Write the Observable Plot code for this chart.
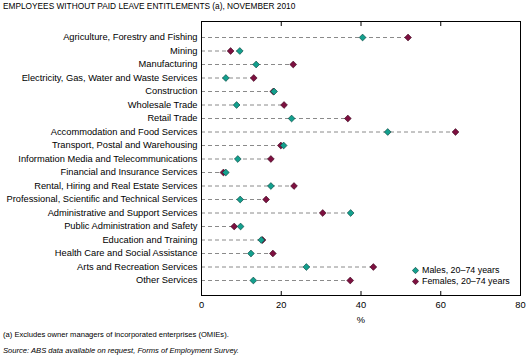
<!DOCTYPE html>
<html>
<head>
<meta charset="utf-8">
<script src="https://cdn.jsdelivr.net/npm/d3@7"></script>
<script src="https://cdn.jsdelivr.net/npm/@observablehq/plot@0.6"></script>
<style>
  html, body { margin: 0; padding: 0; background: #fff; }
  #wrap { position: relative; width: 529px; height: 363px; font-family: "Liberation Sans", Arial, sans-serif; color: #000; }
  #title { position: absolute; left: 3px; top: 1px; font-size: 8.3px; white-space: nowrap; }
  #chart { position: absolute; left: 0; top: 0; }
  .note { position: absolute; left: 3px; font-size: 7.6px; white-space: nowrap; }
  #legend { position: absolute; left: 412px; top: 265px; font-size: 8.9px; }
  #legend div { display: flex; align-items: center; height: 10.8px; }
  #legend svg { margin-right: 3px; }
</style>
</head>
<body>
<div id="wrap">
  <div id="chart"></div>
  <div id="title">EMPLOYEES WITHOUT PAID LEAVE ENTITLEMENTS (a), NOVEMBER 2010</div>
  <div id="legend"></div>
  <div class="note" style="top:330px">(a) Excludes owner managers of incorporated enterprises (OMIEs).</div>
  <div class="note" style="top:346px;font-style:italic">Source: ABS data available on request, <i>Forms of Employment Survey</i>.</div>
</div>
<script>
const categories = [
  "Agriculture, Forestry and Fishing",
  "Mining",
  "Manufacturing",
  "Electricity, Gas, Water and Waste Services",
  "Construction",
  "Wholesale Trade",
  "Retail Trade",
  "Accommodation and Food Services",
  "Transport, Postal and Warehousing",
  "Information Media and Telecommunications",
  "Financial and Insurance Services",
  "Rental, Hiring and Real Estate Services",
  "Professional, Scientific and Technical Services",
  "Administrative and Support Services",
  "Public Administration and Safety",
  "Education and Training",
  "Health Care and Social Assistance",
  "Arts and Recreation Services",
  "Other Services"
];
const males   = [40.4, 9.6, 13.7, 6.1, 18.2, 8.8, 22.6, 46.7, 20.6, 9.1, 6.1, 17.4, 9.7, 37.4, 9.8, 15.0, 12.4, 26.3, 13.0];
const females = [51.8, 7.3, 23.0, 13.1, 18.0, 20.7, 36.7, 63.7, 19.9, 17.4, 5.5, 23.2, 16.2, 30.4, 8.2, 15.3, 17.9, 43.1, 37.3];
const xTicks = [0, 20, 40, 60, 80];
const seriesNames = ["Males, 20\u201374 years", "Females, 20\u201374 years"];
const seriesColors = ["#13a08e", "#7d1040"];
const seriesStrokes = ["#0a3d37", "#3a0a1e"];

const rows = categories.map((c, i) => ({cat: c, m: males[i], f: females[i], max: Math.max(males[i], females[i])}));

const rhombus = {
  draw(context, size) {
    const r = Math.sqrt(size / Math.PI);
    context.moveTo(0, -r);
    context.lineTo(r, 0);
    context.lineTo(0, r);
    context.lineTo(-r, 0);
    context.closePath();
  }
};

const fontFamily = "'Liberation Sans', Arial, sans-serif";
const chart = Plot.plot({
  width: 529,
  height: 325,
  marginTop: 21,
  marginBottom: 30,
  marginLeft: 201,
  marginRight: 9,
  style: {fontFamily, fontSize: "9.3px", color: "#000", background: "transparent"},
  x: {domain: [0, 80], ticks: xTicks},
  y: {type: "point", domain: categories, padding: 0, round: false, insetTop: 16, insetBottom: 15},
  marks: [
    Plot.ruleY(rows, {y: "cat", x1: 0, x2: "max", stroke: "#8a8a8a", strokeWidth: 1, strokeDasharray: "4,3"}),
    Plot.dot(rows, {x: "f", y: "cat", symbol: rhombus, r: 3.4, fill: seriesColors[1], stroke: seriesStrokes[1], strokeWidth: 0.6}),
    Plot.dot(rows, {x: "m", y: "cat", symbol: rhombus, r: 3.4, fill: seriesColors[0], stroke: seriesStrokes[0], strokeWidth: 0.6}),
    Plot.frame({stroke: "#000", strokeWidth: 1}),
    Plot.axisX({anchor: "bottom", ticks: xTicks, tickSize: -4, tickPadding: 10, fontSize: "9.3px", label: "%", labelAnchor: "center", labelOffset: 27, labelArrow: "none"}),
    Plot.axisX({anchor: "top", ticks: xTicks, tickSize: -4, tickFormat: () => "", label: null}),
    Plot.axisY({anchor: "left", tickSize: 0, tickPadding: 4, label: null})
  ]
});
document.getElementById("chart").appendChild(chart);

const legend = document.getElementById("legend");
seriesNames.forEach((name, i) => {
  const row = document.createElement("div");
  row.innerHTML = `<svg width="7" height="7" viewBox="-3.5 -3.5 7 7"><path d="M0,-3.2L3.2,0L0,3.2L-3.2,0Z" fill="${seriesColors[i]}" stroke="${seriesStrokes[i]}" stroke-width="0.6"/></svg><span>${name}</span>`;
  legend.appendChild(row);
});
</script>
</body>
</html>
